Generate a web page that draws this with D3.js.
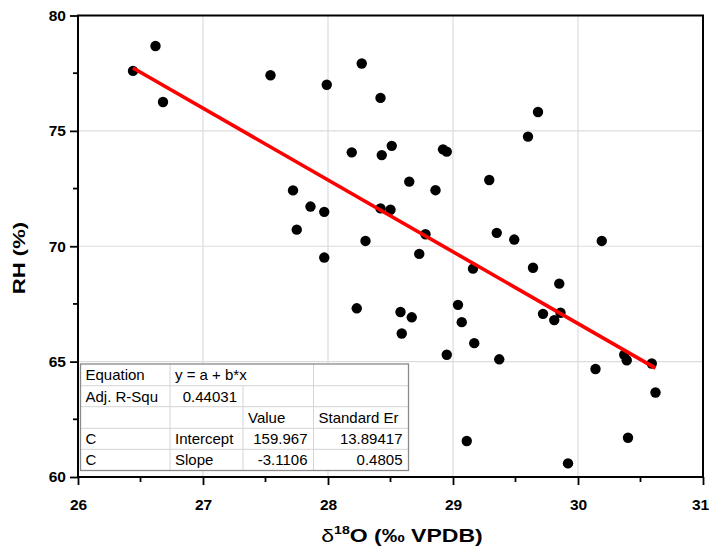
<!DOCTYPE html>
<html><head><meta charset="utf-8">
<script src="https://cdn.jsdelivr.net/npm/d3@7"></script>
<style>body{margin:0;background:#fff}svg{display:block}text{font-family:Arial,"Liberation Sans",sans-serif}</style>
</head><body>
<svg id="chart" width="710" height="557"></svg>
<script>
const xValues = [26.44,26.62,26.68,27.54,27.99,28.27,28.42,28.19,28.43,28.51,28.92,28.95,29.60,29.68,
  27.72,27.86,27.97,27.75,27.97,28.30,28.42,28.50,28.65,28.86,29.29,28.78,28.73,29.35,29.49,30.19,
  29.16,29.64,29.85,29.04,29.07,29.17,28.95,29.37,28.23,28.58,28.67,28.59,29.72,29.81,29.86,
  30.14,30.37,30.39,30.59,30.62,29.11,30.40,29.92];
const yValues = [77.60,78.68,76.25,77.41,77.00,77.92,76.43,74.07,73.95,74.35,74.20,74.10,74.75,75.82,
  72.42,71.72,71.49,70.72,69.51,70.23,71.64,71.58,72.80,72.43,72.87,70.52,69.67,70.58,70.29,70.23,
  69.03,69.07,68.38,67.46,66.71,65.80,65.30,65.10,67.31,67.15,66.92,66.22,67.07,66.80,67.12,
  64.68,65.30,65.06,64.92,63.66,61.56,61.70,60.59];
const intercept = 159.967, slope = -3.1106;
const xTicks = [26,27,28,29,30,31];
const yTicks = [60,65,70,75,80];
const tableRows = [
  ["Equation","y = a + b*x","",""],
  ["Adj. R-Squ","0.44031","",""],
  ["","","Value","Standard Er"],
  ["C","Intercept","159.967","13.89417"],
  ["C","Slope","-3.1106","0.4805"]
];

const svg = d3.select("#chart");
const L=78, R=703, T=15.5, B=477;
const x = d3.scaleLinear().domain([26,31]).range([L,R]);
const y = d3.scaleLinear().domain([60,80]).range([B,T]);

// grid
const g = svg.append("g");
g.selectAll(".gx").data(xTicks.slice(1,-1)).enter().append("line")
  .attr("x1",d=>x(d)).attr("x2",d=>x(d)).attr("y1",T).attr("y2",B)
  .attr("stroke","#dcdcdc").attr("stroke-width",1.2);
g.selectAll(".gy").data(yTicks.slice(1,-1)).enter().append("line")
  .attr("y1",d=>y(d)).attr("y2",d=>y(d)).attr("x1",L).attr("x2",R)
  .attr("stroke","#dcdcdc").attr("stroke-width",1.2);

// points
svg.append("g").selectAll("circle").data(xValues.map((v,i)=>[v,yValues[i]])).enter().append("circle")
  .attr("cx",d=>x(d[0])).attr("cy",d=>y(d[1])).attr("r",5.2).attr("fill","#000");

// fit line
const xmin = d3.min(xValues), xmax = d3.max(xValues);
svg.append("line")
  .attr("x1",x(xmin)).attr("y1",y(intercept+slope*xmin))
  .attr("x2",x(xmax)).attr("y2",y(intercept+slope*xmax))
  .attr("stroke","#ff0000").attr("stroke-width",3.6);

// table
const colX=[80.5,170,243,313.5,408.5];
const rowY=[364,385.7,406.7,428.3,449.3,470.5];
const tg = svg.append("g");
tg.append("rect").attr("x",colX[0]).attr("y",rowY[0]).attr("width",colX[4]-colX[0]).attr("height",rowY[5]-rowY[0])
  .attr("fill","#fff");
for(let r=1;r<5;r++) tg.append("line").attr("x1",colX[0]).attr("x2",colX[4]).attr("y1",rowY[r]).attr("y2",rowY[r]).attr("stroke","#d4d4d4");
[1,2,3].forEach(c=>{
  const y1 = c===2 ? rowY[1] : rowY[0];
  tg.append("line").attr("x1",colX[c]).attr("x2",colX[c]).attr("y1",y1).attr("y2",rowY[5]).attr("stroke","#d4d4d4");
});
tg.append("rect").attr("x",colX[0]).attr("y",rowY[0]).attr("width",colX[4]-colX[0]).attr("height",rowY[5]-rowY[0])
  .attr("fill","none").attr("stroke","#8a8a8a").attr("stroke-width",1.3);
tableRows.forEach((row,r)=>{
  row.forEach((txt,c)=>{
    if(!txt) return;
    let right = (r>=3 && c>=2) || (r===1 && c===1);
    const t = tg.append("text").attr("y",(rowY[r]+rowY[r+1])/2+5.3).attr("font-size",15).attr("fill","#000").text(txt);
    if(right) t.attr("x",colX[c+1]-6).attr("text-anchor","end");
    else t.attr("x",colX[c]+5);
  });
});

// axes frame
svg.append("rect").attr("x",L).attr("y",T).attr("width",R-L).attr("height",B-T)
  .attr("fill","none").attr("stroke","#000").attr("stroke-width",2);

// axes
const xAxis = d3.axisBottom(x).tickValues(xTicks).tickSize(8).tickFormat(d3.format("d"));
const xa = svg.append("g").attr("transform",`translate(0,${B})`).call(xAxis);
const yAxis = d3.axisLeft(y).tickValues(yTicks).tickSize(8).tickFormat(d3.format("d"));
const ya = svg.append("g").attr("transform",`translate(${L},0)`).call(yAxis);
[xa,ya].forEach(a=>{
  a.select(".domain").remove();
  a.selectAll(".tick line").attr("stroke","#000").attr("stroke-width",1.8);
  a.selectAll(".tick text").attr("font-size",15.5).attr("font-weight","bold").attr("fill","#000")
   .attr("font-family","Arial, 'Liberation Sans', sans-serif");
});
xa.selectAll(".tick text").attr("y",22).attr("dy","0.71em")
  .attr("dx",d=>d===31?-3:0);
ya.selectAll(".tick text").attr("x",-12);
// minor ticks
const xMinor = xTicks.slice(0,-1).map(d=>d+0.5);
const yMinor = yTicks.slice(0,-1).map(d=>d+2.5);
svg.append("g").selectAll("line").data(xMinor).enter().append("line")
  .attr("x1",d=>x(d)).attr("x2",d=>x(d)).attr("y1",B).attr("y2",B+5).attr("stroke","#000").attr("stroke-width",1.8);
svg.append("g").selectAll("line").data(yMinor).enter().append("line")
  .attr("y1",d=>y(d)).attr("y2",d=>y(d)).attr("x1",L).attr("x2",L-5).attr("stroke","#000").attr("stroke-width",1.8);

// titles
svg.append("text").attr("transform","translate(25,258) rotate(-90) scale(1.3,1)").attr("text-anchor","middle")
  .attr("font-size",17).attr("font-weight","bold").text("RH (%)");
const xt = svg.append("text").attr("transform","translate(402,542) scale(1.28,1)").attr("text-anchor","middle")
  .attr("font-size",18).attr("font-weight","bold");
xt.append("tspan").attr("font-weight","normal").text("δ");
xt.append("tspan").attr("font-size",11).attr("dy",-8).text("18");
xt.append("tspan").attr("dy",8).text("O (‰ VPDB)");
</script>
</body></html>
